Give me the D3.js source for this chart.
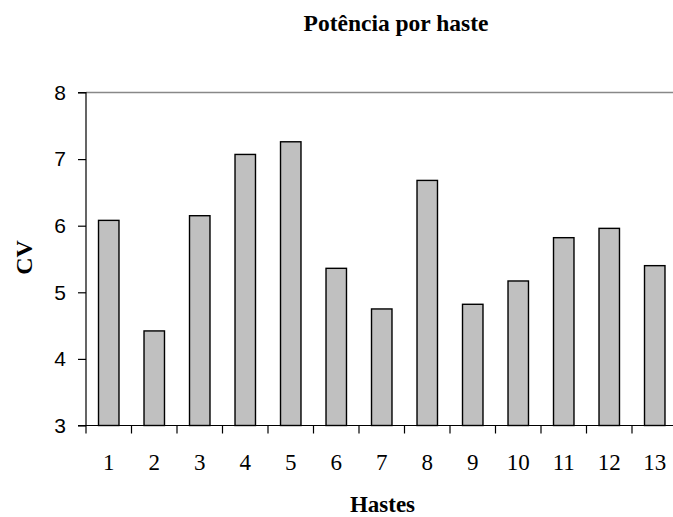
<!DOCTYPE html>
<html>
<head>
<meta charset="utf-8">
<script src="https://cdn.jsdelivr.net/npm/d3@7"></script>
<style>
  body { margin: 0; background: #fff; }
  svg { display: block; }
</style>
</head>
<body>
<svg id="chart" width="673" height="517"></svg>
<script>
const hastes = ["1", "2", "3", "4", "5", "6", "7", "8", "9", "10", "11", "12", "13"];
const potencia = [6.08, 4.42, 6.15, 7.07, 7.26, 5.36, 4.75, 6.68, 4.82, 5.17, 5.82, 5.96, 5.4];
const yTicks = [3, 4, 5, 6, 7, 8];

const svg = d3.select("#chart");
const plotLeft = 86,
  plotRight = 677.5,
  plotTop = 92.5,
  plotBottom = 425.5;

const x = d3
  .scaleBand()
  .domain(hastes)
  .range([plotLeft, plotRight])
  .paddingInner(0.55)
  .paddingOuter(0.275);

const y = d3.scaleLinear().domain([3, 8]).range([plotBottom, plotTop]);

// top gridline
svg
  .append("line")
  .attr("x1", plotLeft)
  .attr("x2", 673)
  .attr("y1", y(8))
  .attr("y2", y(8))
  .attr("stroke", "#888")
  .attr("stroke-width", 1.6);

// bars
svg
  .append("g")
  .selectAll("rect")
  .data(potencia)
  .join("rect")
  .attr("x", (d, i) => x(hastes[i]))
  .attr("y", (d) => y(d))
  .attr("width", x.bandwidth())
  .attr("height", (d) => y(3) - y(d))
  .attr("fill", "#c0c0c0")
  .attr("stroke", "#000")
  .attr("stroke-width", 1.4);

// y axis
svg
  .append("g")
  .attr("transform", `translate(${plotLeft},0)`)
  .call(d3.axisLeft(y).tickValues(yTicks).tickSize(8).tickPadding(12).tickFormat(d3.format("d")))
  .call((g) => g.selectAll("line, path").attr("stroke", "#000").attr("stroke-width", 1.2))
  .call((g) => g.select(".domain").attr("d", `M-8,${plotTop}H0V${plotBottom}H-8`))
  .selectAll("text")
  .attr("font-family", "'Liberation Sans', Arial, sans-serif")
  .attr("font-size", 21)
  .attr("fill", "#000");

// x axis line and category boundary ticks
const step = x.step();
const boundaries = hastes.map((h) => x(h) + x.bandwidth() / 2 - step / 2);
svg
  .append("line")
  .attr("x1", plotLeft)
  .attr("x2", plotRight)
  .attr("y1", plotBottom)
  .attr("y2", plotBottom)
  .attr("stroke", "#000")
  .attr("stroke-width", 1.2);
svg
  .append("g")
  .selectAll("line")
  .data(boundaries)
  .join("line")
  .attr("x1", (d) => d)
  .attr("x2", (d) => d)
  .attr("y1", plotBottom)
  .attr("y2", plotBottom + 8)
  .attr("stroke", "#000")
  .attr("stroke-width", 1.2);

// x labels
svg
  .append("g")
  .attr("transform", `translate(0,${plotBottom})`)
  .call(d3.axisBottom(x).tickSize(0).tickPadding(28))
  .call((g) => g.select(".domain").remove())
  .selectAll("text")
  .attr("font-family", "'Liberation Serif', 'Times New Roman', serif")
  .attr("font-size", 23)
  .attr("fill", "#000");

// title
svg
  .append("text")
  .attr("x", 396)
  .attr("y", 31)
  .attr("text-anchor", "middle")
  .attr("font-family", "'Liberation Serif', 'Times New Roman', serif")
  .attr("font-weight", "bold")
  .attr("font-size", 23.5)
  .text("Potência por haste");

// axis titles
svg
  .append("text")
  .attr("x", 382.5)
  .attr("y", 512)
  .attr("text-anchor", "middle")
  .attr("font-family", "'Liberation Serif', 'Times New Roman', serif")
  .attr("font-weight", "bold")
  .attr("font-size", 23)
  .text("Hastes");

svg
  .append("text")
  .attr("transform", "translate(32,257.5) rotate(-90)")
  .attr("text-anchor", "middle")
  .attr("font-family", "'Liberation Serif', 'Times New Roman', serif")
  .attr("font-weight", "bold")
  .attr("font-size", 24)
  .text("CV");
</script>
</body>
</html>
